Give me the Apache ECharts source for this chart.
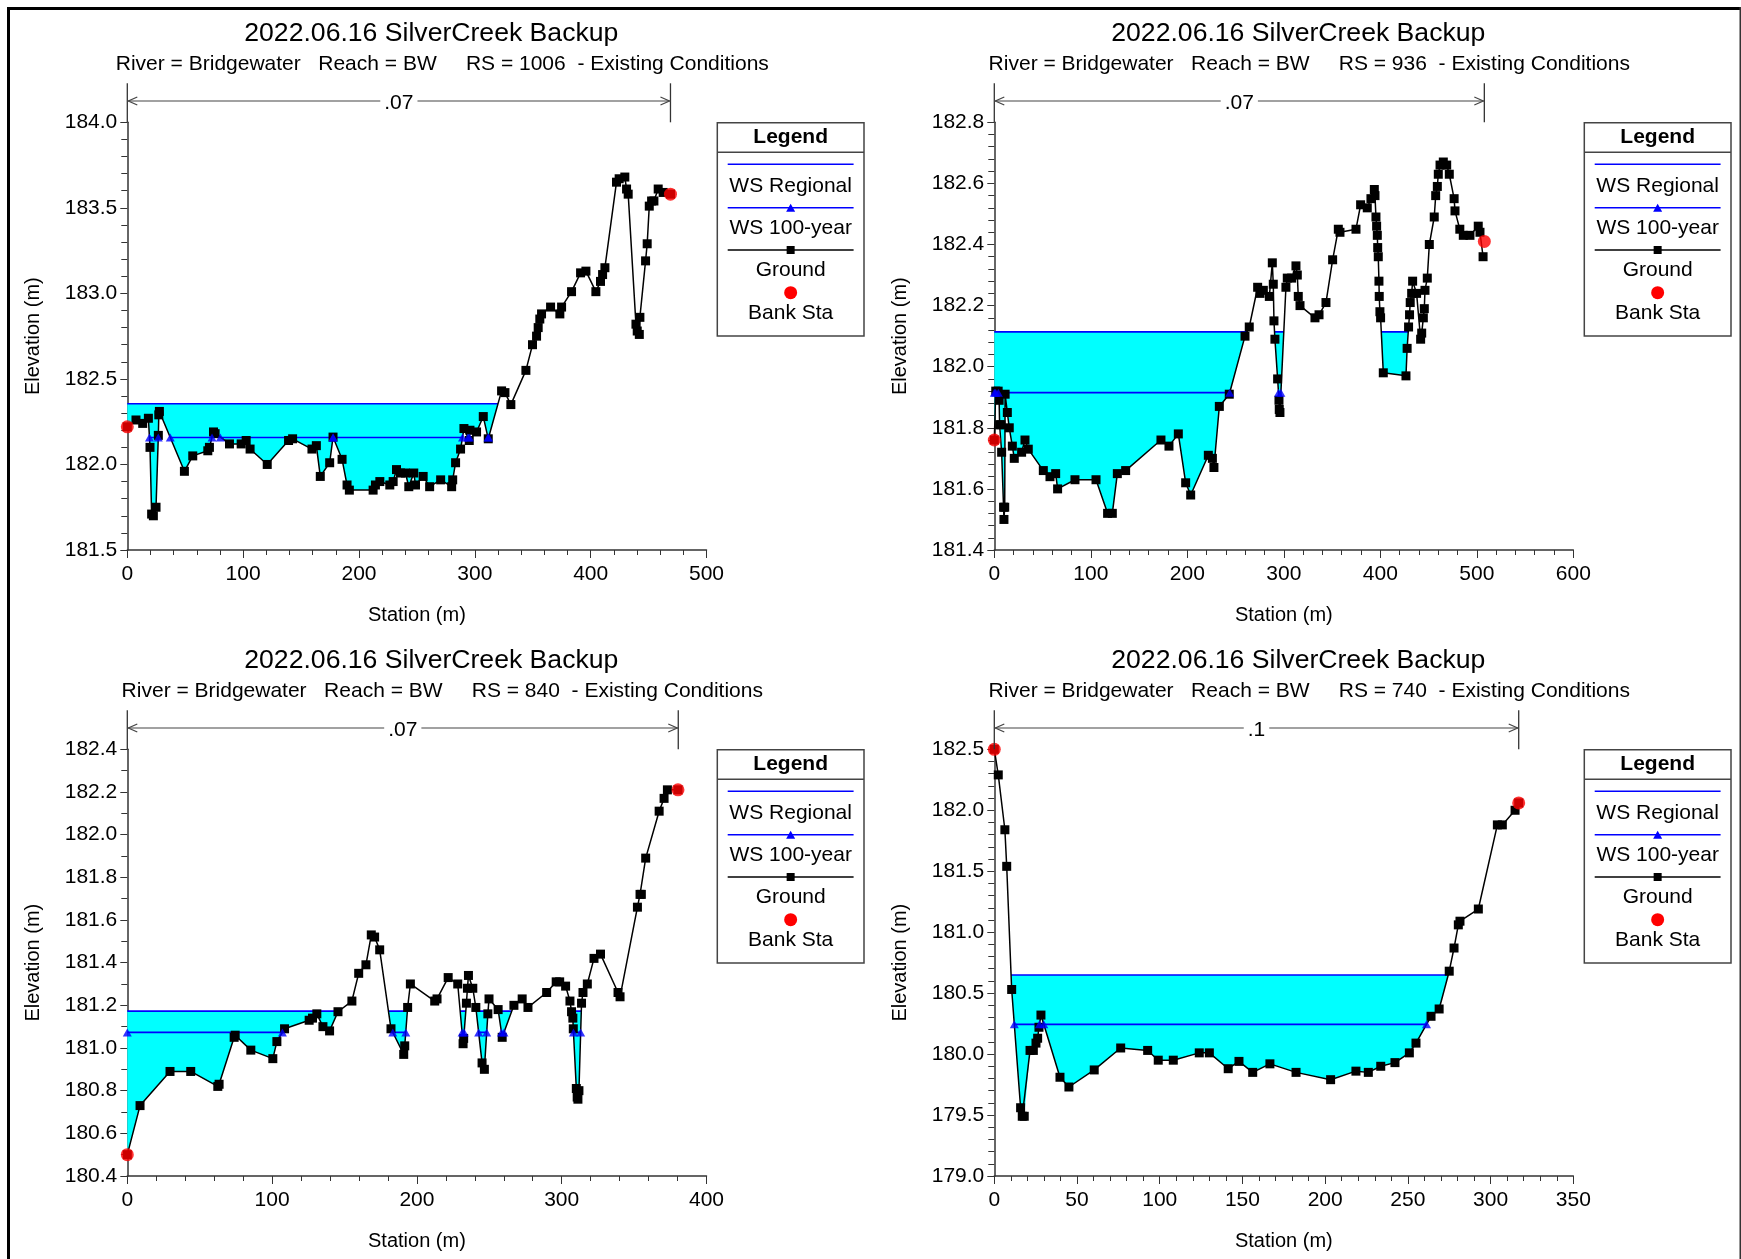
<!DOCTYPE html>
<html><head><meta charset="utf-8">
<script src="https://cdn.jsdelivr.net/npm/echarts@6/dist/echarts.min.js"></script>
<style>html,body{margin:0;padding:0;background:#fff;}#c{width:1741px;height:1259px;}</style>
</head><body><div id="c"></div>
<script>
// ---------------- DATA ----------------
const chartTitle = '2022.06.16 SilverCreek Backup';
const subtitles = [
  'River = Bridgewater   Reach = BW     RS = 1006  - Existing Conditions',
  'River = Bridgewater   Reach = BW     RS = 936  - Existing Conditions',
  'River = Bridgewater   Reach = BW     RS = 840  - Existing Conditions',
  'River = Bridgewater   Reach = BW     RS = 740  - Existing Conditions'
];
const legendLabels = ['WS Regional', 'WS 100-year', 'Ground', 'Bank Sta'];
const xAxisName = 'Station (m)';
const yAxisName = 'Elevation (m)';

// RS 1006
const p1Sta  = [0,7.5,13.3,18.2,19.6,21,22.5,24.8,26.8,27.2,27.7,49.3,56.5,69.5,70.9,74.4,75.8,88.2,98.3,102.6,106,120.8,139.2,142.7,159.4,163.2,166.6,174.7,177.6,185.4,189.7,191.7,212.2,214.2,218,226.6,229.5,232.4,235.8,240.1,243,247.3,248.8,255.4,261,270.5,280,280.9,283.4,287.7,290.6,295.2,295.8,301.5,307.3,311.6,323.1,326,331.1,344.1,349.8,353.3,354.7,356.1,357.6,365.4,373.4,374.9,383.5,391.3,395.9,404.5,408.5,410.3,412.3,422.3,424.6,429.5,431,432.4,439.1,440.2,442,442.5,447.4,448.8,450.6,452.6,454.6,458.3,462.6,468.9];
const p1Elev = [182.22,182.26,182.24,182.27,182.10,181.71,181.70,181.75,182.17,182.29,182.31,181.96,182.05,182.08,182.10,182.19,182.18,182.12,182.12,182.14,182.09,182.00,182.14,182.15,182.09,182.11,181.93,182.01,182.16,182.03,181.88,181.85,181.85,181.88,181.90,181.88,181.90,181.97,181.95,181.95,181.87,181.95,181.88,181.93,181.87,181.91,181.87,181.91,182.01,182.09,182.21,182.14,182.20,182.19,182.28,182.15,182.43,182.42,182.35,182.55,182.70,182.75,182.80,182.85,182.88,182.92,182.88,182.92,183.01,183.12,183.13,183.01,183.07,183.11,183.15,183.65,183.67,183.68,183.61,183.58,182.82,182.78,182.76,182.86,183.19,183.29,183.51,183.54,183.54,183.61,183.59,183.58];
const p1BankSta = [0, 468.9];
const p1BankElev = [182.22, 183.58];
const p1WsRegional = 182.355;
const p1Ws100 = 182.158;
const p1NLabel = '.07';
const p1NSpan = [0, 468.9];

// RS 936
const p2Sta  = [0,1.5,4,5,5.5,6.8,7.6,9.6,10,10.8,11.2,13.5,15.5,18.7,20.7,28.3,31.8,35.2,50.8,57.7,63.6,65.6,83.6,105.4,117.4,122.3,127.5,136.1,172.7,181,190.7,198.3,203.5,221.8,226,227.6,233.2,243.5,259.8,264.2,272.9,275.3,278.8,285,288.1,289.1,289.8,290.8,293.6,295,295.3,296,302.2,303.6,308.1,312.6,314,315,316.8,332.3,336.5,343.7,350.6,356.5,358.2,374.8,379.6,386.5,390.3,393.8,394.5,395.5,396.2,396.9,397.3,397.9,398.6,398.9,399.6,400.3,403.1,426.6,427.8,429.3,430.3,431,432.5,433.5,437.6,441.8,442.9,444.6,445.6,446.3,448.7,450.8,455.9,457.4,459.1,460.1,461.9,465.3,468.8,471.5,476.5,477.4,482.4,486,492.9,501.5,503.3,506.5];
const p2Elev = [181.76,181.92,181.92,181.89,181.81,181.81,181.72,181.54,181.50,181.54,181.91,181.85,181.80,181.74,181.70,181.72,181.76,181.73,181.66,181.64,181.65,181.60,181.63,181.63,181.52,181.52,181.65,181.66,181.76,181.74,181.78,181.62,181.58,181.71,181.70,181.67,181.87,181.91,182.10,182.13,182.26,182.24,182.25,182.23,182.34,182.27,182.15,182.09,181.96,181.89,181.86,181.85,182.26,182.29,182.29,182.33,182.30,182.23,182.20,182.16,182.17,182.21,182.35,182.45,182.44,182.45,182.53,182.52,182.55,182.58,182.56,182.49,182.46,182.43,182.39,182.36,182.28,182.23,182.18,182.16,181.98,181.97,182.06,182.13,182.17,182.21,182.24,182.28,182.24,182.09,182.11,182.16,182.19,182.25,182.29,182.40,182.49,182.56,182.59,182.63,182.66,182.67,182.66,182.63,182.55,182.51,182.45,182.43,182.43,182.46,182.44,182.36];
const p2BankSta = [0, 507.8];
const p2BankElev = [181.76, 182.41];
const p2WsRegional = 182.114;
const p2Ws100 = 181.915;
const p2NLabel = '.07';
const p2NSpan = [0, 507.8];

// RS 840
const p3Sta  = [0,8.8,29.5,43.8,62.5,63.4,73.8,74.5,85.3,100.5,103.3,108.6,125.6,127.9,130.9,135.1,139.7,145.5,155.1,159.8,164.8,168.5,170.8,174.3,182.1,190.9,191.6,193.6,195.5,212.3,213.9,221.6,228.2,231.9,232.3,234.2,234.9,235.6,238.6,240.7,245,246.6,249,249.8,256.1,258.9,267,272.7,276.7,289.6,296.2,298.6,302.7,305.7,306.8,307.7,308,310.1,310.7,311.2,311.9,313.7,314.7,317.7,322.3,326.8,338.9,340.3,352.3,354.1,355,358,367.3,370.7,373,380.3];
const p3Elev = [180.50,180.73,180.89,180.89,180.82,180.83,181.05,181.06,180.99,180.95,181.03,181.09,181.13,181.14,181.16,181.10,181.08,181.17,181.22,181.35,181.39,181.53,181.52,181.46,181.09,180.97,181.01,181.19,181.30,181.22,181.23,181.33,181.30,181.02,181.045,181.21,181.28,181.34,181.28,181.19,180.93,180.90,181.16,181.23,181.18,181.05,181.20,181.23,181.19,181.26,181.31,181.31,181.29,181.22,181.17,181.14,181.09,180.81,180.77,180.76,180.80,181.21,181.26,181.30,181.42,181.44,181.26,181.24,181.66,181.72,181.72,181.89,182.11,182.17,182.21,182.21];
const p3BankSta = [0, 380.3];
const p3BankElev = [180.50, 182.21];
const p3WsRegional = 181.173;
const p3Ws100 = 181.073;
const p3NLabel = '.07';
const p3NSpan = [0, 380.5];

// RS 740
const p4Sta  = [0,2.4,6.4,7.5,10.5,15.9,16.9,18.1,21.6,23.6,25.2,26.2,27,28.2,39.7,45.1,60.4,76.4,92.7,99.1,108.2,123.9,130,141.4,147.9,156.2,166.6,182.4,203.3,218.6,226.1,233.6,242.2,250.9,254.9,264,268.9,275,277.9,280.5,281.5,292.6,304.1,307.1,314.8,317];
const p4Elev = [182.50,182.29,181.84,181.54,180.53,179.56,179.49,179.49,180.03,180.03,180.09,180.13,180.22,180.32,179.81,179.73,179.87,180.05,180.03,179.95,179.95,180.01,180.01,179.88,179.94,179.85,179.92,179.85,179.79,179.86,179.85,179.90,179.93,180.01,180.09,180.31,180.37,180.68,180.87,181.06,181.09,181.19,181.88,181.88,182.00,182.06];
const p4BankSta = [0, 317];
const p4BankElev = [182.50, 182.06];
const p4WsRegional = 180.649;
const p4Ws100 = 180.244;
const p4NLabel = '.1';
const p4NSpan = [0, 317];

// axis scales: [xMax, xInterval, yMin, yMax, yInterval, yMinorSplit]
const p1Axis = [500, 100, 181.5, 184.0, 0.5, 5];
const p2Axis = [600, 100, 181.4, 182.8, 0.2, 5];
const p3Axis = [400, 100, 180.4, 182.4, 0.2, 2];
const p4Axis = [350, 50, 179.0, 182.5, 0.5, 5];

// ---------------- LAYOUT / STYLE ----------------
const FONT = '"Liberation Sans", Arial, sans-serif';
const grids = [
  {left:127.3, top:122.3, width:579.2, height:427.7},
  {left:994.3, top:122.3, width:579.0, height:427.7},
  {left:127.3, top:749.3, width:579.2, height:426.7},
  {left:994.3, top:749.3, width:579.0, height:426.7}
];
const panels = [
  {sta:p1Sta, elev:p1Elev, bs:p1BankSta, be:p1BankElev, reg:p1WsRegional, h100:p1Ws100, nl:p1NLabel, ns:p1NSpan, ax:p1Axis, sub:subtitles[0]},
  {sta:p2Sta, elev:p2Elev, bs:p2BankSta, be:p2BankElev, reg:p2WsRegional, h100:p2Ws100, nl:p2NLabel, ns:p2NSpan, ax:p2Axis, sub:subtitles[1]},
  {sta:p3Sta, elev:p3Elev, bs:p3BankSta, be:p3BankElev, reg:p3WsRegional, h100:p3Ws100, nl:p3NLabel, ns:p3NSpan, ax:p3Axis, sub:subtitles[2]},
  {sta:p4Sta, elev:p4Elev, bs:p4BankSta, be:p4BankElev, reg:p4WsRegional, h100:p4Ws100, nl:p4NLabel, ns:p4NSpan, ax:p4Axis, sub:subtitles[3]}
];

function wetIntervals(sta, elev, h) {
  const out = []; let start = elev[0] < h ? sta[0] : null;
  for (let i = 0; i < sta.length - 1; i++) {
    const a = elev[i] < h, b = elev[i+1] < h;
    if (a !== b) {
      const t = (h - elev[i]) / (elev[i+1] - elev[i]);
      const x = sta[i] + t * (sta[i+1] - sta[i]);
      if (b) start = x; else { out.push([start, x]); start = null; }
    }
  }
  if (start !== null) out.push([start, sta[sta.length-1]]);
  return out;
}
function groundAt(sta, elev, x) {
  if (x <= sta[0]) return elev[0];
  for (let i = 0; i < sta.length - 1; i++) {
    if (x >= sta[i] && x <= sta[i+1]) {
      const d = sta[i+1] - sta[i];
      return d === 0 ? elev[i] : elev[i] + (x - sta[i]) / d * (elev[i+1] - elev[i]);
    }
  }
  return elev[elev.length-1];
}

const xAxes = [], yAxes = [], series = [], graphics = [];
const axisColor = '#333';
const TXT_DY = 2; // vertical nudge for centred texts

panels.forEach((p, i) => {
  const [xMax, xInt, yMin, yMax, yInt, ySplit] = p.ax;
  xAxes.push({
    gridIndex:i, type:'value', min:0, max:xMax, interval:xInt,
    name:xAxisName, nameLocation:'middle', nameGap:55, nameMoveOverlap:false,
    nameTextStyle:{color:'#000', fontSize:20, fontFamily:FONT},
    axisLine:{show:true, onZero:false, lineStyle:{color:axisColor, width:1.5}},
    axisTick:{show:true, length:8, lineStyle:{color:axisColor, width:1}},
    minorTick:{show:true, splitNumber:5, length:5, lineStyle:{color:axisColor, width:1}},
    splitLine:{show:false}, minorSplitLine:{show:false},
    axisLabel:{color:'#000', fontSize:21, fontFamily:FONT, margin:14, hideOverlap:false}
  });
  yAxes.push({
    gridIndex:i, type:'value', min:yMin, max:yMax, interval:yInt,
    name:yAxisName, nameLocation:'middle', nameGap:84, nameMoveOverlap:false,
    nameTextStyle:{color:'#000', fontSize:20, fontFamily:FONT},
    axisLine:{show:true, onZero:false, lineStyle:{color:axisColor, width:1.5}},
    axisTick:{show:true, length:7, lineStyle:{color:axisColor, width:1}},
    minorTick:{show:true, splitNumber:ySplit, length:6, lineStyle:{color:axisColor, width:1}},
    splitLine:{show:false}, minorSplitLine:{show:false},
    axisLabel:{color:'#000', fontSize:21, fontFamily:FONT, margin:10, hideOverlap:false,
      padding:[4,0,0,0], formatter:v => (+v).toFixed(1)}
  });

  const regInt = wetIntervals(p.sta, p.elev, p.reg);
  const h100Int = wetIntervals(p.sta, p.elev, p.h100);
  const sta = p.sta, elev = p.elev;

  // cyan water area
  series.push({
    type:'custom', xAxisIndex:i, yAxisIndex:i, z:1, silent:true, clip:true,
    data: regInt,
    renderItem: (params, api) => {
      const a = api.value(0), b = api.value(1), h = p.reg;
      const pts = [[a,h],[b,h],[b, Math.min(h, groundAt(sta, elev, b))]];
      for (let k = sta.length - 1; k >= 0; k--) {
        if (sta[k] > a && sta[k] < b) pts.push([sta[k], Math.min(elev[k], h)]);
      }
      pts.push([a, Math.min(h, groundAt(sta, elev, a))]);
      return {type:'polygon', shape:{points: pts.map(q => api.coord(q))}, style:{fill:'#00FFFF', stroke:null}};
    }
  });
  // WS regional line
  series.push({
    type:'custom', xAxisIndex:i, yAxisIndex:i, z:2, silent:true, clip:true,
    data: regInt,
    renderItem: (params, api) => {
      const p0 = api.coord([api.value(0), p.reg]), p1 = api.coord([api.value(1), p.reg]);
      return {type:'line', shape:{x1:p0[0], y1:p0[1], x2:p1[0], y2:p1[1]}, style:{stroke:'#0000FF', lineWidth:1.6}};
    }
  });
  // WS 100-year line
  series.push({
    type:'custom', xAxisIndex:i, yAxisIndex:i, z:2, silent:true, clip:true,
    data: h100Int,
    renderItem: (params, api) => {
      const p0 = api.coord([api.value(0), p.h100]), p1 = api.coord([api.value(1), p.h100]);
      return {type:'line', shape:{x1:p0[0], y1:p0[1], x2:p1[0], y2:p1[1]}, style:{stroke:'#0000FF', lineWidth:1.6}};
    }
  });
  // Ground
  series.push({
    type:'line', xAxisIndex:i, yAxisIndex:i, z:3, silent:true, clip:false,
    data: sta.map((s, k) => [s, elev[k]]),
    symbol:'rect', symbolSize:9, showAllSymbol:true,
    lineStyle:{color:'#000', width:1.5}, itemStyle:{color:'#000'}
  });
  // 100-year triangles
  const tri = [];
  h100Int.forEach(iv => { tri.push([iv[0], p.h100]); tri.push([iv[1], p.h100]); });
  series.push({
    type:'scatter', xAxisIndex:i, yAxisIndex:i, z:4, silent:true, clip:false,
    data: tri, symbol:'triangle', symbolSize:[9,8], itemStyle:{color:'#0000FF'}
  });
  // Bank stations
  series.push({
    type:'scatter', xAxisIndex:i, yAxisIndex:i, z:5, silent:true, clip:false,
    data: p.bs.map((s, k) => [s, p.be[k]]), symbol:'circle', symbolSize:13, itemStyle:{color:'#FF0000'}
  });
  // Manning's n marker
  series.push({
    type:'custom', xAxisIndex:i, yAxisIndex:i, z:6, silent:true, clip:false,
    data: [p.ns],
    renderItem: (params, api) => {
      const cs = params.coordSys;
      const x0 = api.coord([api.value(0), yMin])[0], x1 = api.coord([api.value(1), yMin])[0];
      const yl = cs.y - 21.3, yt = cs.y - 39;
      const st = {stroke:'#444', lineWidth:1.2, fill:null};
      return {type:'group', children:[
        {type:'line', shape:{x1:x0, y1:yt, x2:x0, y2:cs.y}, style:{stroke:'#333', lineWidth:1.3}},
        {type:'line', shape:{x1:x1, y1:yt, x2:x1, y2:cs.y}, style:{stroke:'#333', lineWidth:1.3}},
        {type:'line', shape:{x1:x0, y1:yl, x2:x1, y2:yl}, style:st},
        {type:'polyline', shape:{points:[[x0+10, yl-4],[x0+1, yl],[x0+10, yl+4]]}, style:st},
        {type:'polyline', shape:{points:[[x1-10, yl-4],[x1-1, yl],[x1-10, yl+4]]}, style:st},
        {type:'text', x:(x0+x1)/2, y:yl + TXT_DY, style:{text:p.nl, fill:'#000', font:'21px ' + FONT,
          align:'center', verticalAlign:'middle', textAlign:'center', textVerticalAlign:'middle',
          backgroundColor:'#fff', padding:[0,4]}}
      ]};
    }
  });

  // titles
  const g = grids[i];
  graphics.push({type:'text', silent:true, x:g.left + 304, y:g.top - 91.3 + TXT_DY + 0.5,
    style:{text:chartTitle, fill:'#000', font:'26.6px ' + FONT, align:'center', verticalAlign:'middle', textAlign:'center', textVerticalAlign:'middle'}});
  graphics.push({type:'text', silent:true, x:g.left + 315, y:g.top - 59.5 + 1.5,
    style:{text:p.sub, fill:'#000', font:'21px ' + FONT, align:'center', verticalAlign:'middle', textAlign:'center', textVerticalAlign:'middle'}});

  // legend box
  const L = g.left + 590, T = g.top + 0.4, W = 146.7, cx = L + W/2;
  const txt = (s, y, bold) => ({type:'text', silent:true, x:cx, y:y + TXT_DY,
    style:{text:s, fill:'#000', font:(bold ? 'bold ' : '') + '21px ' + FONT, align:'center', verticalAlign:'middle', textAlign:'center', textVerticalAlign:'middle'}});
  graphics.push({type:'rect', silent:true, shape:{x:L, y:T, width:W, height:213.3}, style:{fill:'#fff', stroke:'#444', lineWidth:1.5}});
  graphics.push({type:'line', silent:true, shape:{x1:L, y1:T+29.6, x2:L+W, y2:T+29.6}, style:{stroke:'#444', lineWidth:1.5}});
  graphics.push(txt('Legend', T+12.8, true));
  graphics.push({type:'line', silent:true, shape:{x1:L+10.4, y1:T+41.6, x2:L+W-10.4, y2:T+41.6}, style:{stroke:'#0000FF', lineWidth:1.5}});
  graphics.push(txt(legendLabels[0], T+61.3));
  graphics.push({type:'line', silent:true, shape:{x1:L+10.4, y1:T+85, x2:L+W-10.4, y2:T+85}, style:{stroke:'#0000FF', lineWidth:1.5}});
  graphics.push({type:'polygon', silent:true, shape:{points:[[cx-4.5, T+89],[cx+4.5, T+89],[cx, T+81]]}, style:{fill:'#0000FF'}});
  graphics.push(txt(legendLabels[1], T+104));
  graphics.push({type:'line', silent:true, shape:{x1:L+10.4, y1:T+127.3, x2:L+W-10.4, y2:T+127.3}, style:{stroke:'#000', lineWidth:1.5}});
  graphics.push({type:'rect', silent:true, shape:{x:cx-4, y:T+123.3, width:8, height:8}, style:{fill:'#000'}});
  graphics.push(txt(legendLabels[2], T+145.6));
  graphics.push({type:'circle', silent:true, shape:{cx:cx, cy:T+170, r:6.5}, style:{fill:'#FF0000'}});
  graphics.push(txt(legendLabels[3], T+188.3));
});

// window frame
graphics.push({type:'rect', silent:true, shape:{x:7, y:7, width:1734, height:3}, style:{fill:'#000'}});
graphics.push({type:'rect', silent:true, shape:{x:7, y:7, width:3, height:1252}, style:{fill:'#000'}});
graphics.push({type:'rect', silent:true, shape:{x:1739.5, y:7, width:1.5, height:1252}, style:{fill:'#333'}});

const chart = echarts.init(document.getElementById('c'), null, {renderer:'canvas'});
chart.setOption({
  backgroundColor:'#fff',
  animation:false,
  textStyle:{fontFamily:FONT},
  grid: grids.map(g => Object.assign({containLabel:false, outerBoundsMode:'none'}, g)),
  xAxis: xAxes,
  yAxis: yAxes,
  series: series,
  graphic: {elements: graphics}
});
</script>
</body></html>
